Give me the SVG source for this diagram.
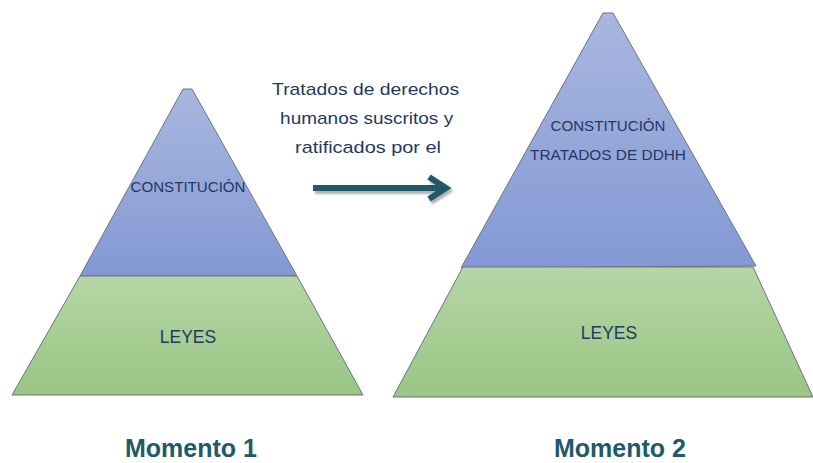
<svg xmlns="http://www.w3.org/2000/svg" width="813" height="463" viewBox="0 0 813 463">
<defs>
<linearGradient id="gBlue1" x1="0" y1="89" x2="0" y2="276" gradientUnits="userSpaceOnUse">
<stop offset="0" stop-color="#A9B7DF"/><stop offset="1" stop-color="#8398D4"/>
</linearGradient>
<linearGradient id="gGreen1" x1="0" y1="276" x2="0" y2="395" gradientUnits="userSpaceOnUse">
<stop offset="0" stop-color="#B5D6A5"/><stop offset="1" stop-color="#9AC584"/>
</linearGradient>
<linearGradient id="gBlue2" x1="0" y1="13" x2="0" y2="267" gradientUnits="userSpaceOnUse">
<stop offset="0" stop-color="#A9B7DF"/><stop offset="1" stop-color="#8398D4"/>
</linearGradient>
<linearGradient id="gGreen2" x1="0" y1="267" x2="0" y2="397" gradientUnits="userSpaceOnUse">
<stop offset="0" stop-color="#B5D6A5"/><stop offset="1" stop-color="#9AC584"/>
</linearGradient>
<filter id="shadow" x="-10%" y="-50%" width="130%" height="250%">
<feGaussianBlur stdDeviation="1"/>
</filter>
</defs>
<style>
.shape{stroke:#6B7580;stroke-width:1}
.lbl{font-family:"Liberation Sans",Arial,sans-serif;fill:#1F3864;text-anchor:middle}
.mom{font-family:"Liberation Sans",Arial,sans-serif;font-weight:bold;font-size:25px;fill:#215968;text-anchor:middle}
</style>
<g id="momento1">
<g id="p1-top">
<polygon class="shape" fill="url(#gBlue1)" points="183,89 192,89 297,276 80,276"/>
<text class="lbl" x="188" y="192" font-size="15" textLength="115" lengthAdjust="spacingAndGlyphs">CONSTITUCIÓN</text>
</g>
<g id="p1-bottom">
<polygon class="shape" fill="url(#gGreen1)" points="80,276 297,276 363,395 12,395"/>
<text class="lbl" x="188" y="343" font-size="17.5">LEYES</text>
</g>
<text class="mom" x="191" y="457">Momento 1</text>
</g>
<g id="momento2">
<g id="p2-top">
<polygon class="shape" fill="url(#gBlue2)" points="603,13 613,13 756,266 461,268"/>
<text class="lbl" x="608" y="131" font-size="15" textLength="115" lengthAdjust="spacingAndGlyphs">CONSTITUCIÓN</text>
<text class="lbl" x="608" y="160" font-size="15" textLength="156" lengthAdjust="spacingAndGlyphs">TRATADOS DE DDHH</text>
</g>
<g id="p2-bottom">
<polygon class="shape" fill="url(#gGreen2)" points="463,267 753,267 813,397 393,397"/>
<text class="lbl" x="609" y="339" font-size="17.5">LEYES</text>
</g>
<text class="mom" x="620" y="457">Momento 2</text>
</g>
<g id="arrow-label">
<text class="lbl" font-size="17">
<tspan x="368" y="95" textLength="187" lengthAdjust="spacingAndGlyphs">Tratados de derechos</tspan>
<tspan x="369" y="124" textLength="173" lengthAdjust="spacingAndGlyphs">humanos suscritos y</tspan>
<tspan x="368" y="153" textLength="146" lengthAdjust="spacingAndGlyphs">ratificados por el</tspan>
</text>
</g>
<g id="connectors">
<g transform="translate(2,3)" filter="url(#shadow)" opacity="0.6">
<path d="M313,188 H445 M429,177 L446,188 L429,199" fill="none" stroke="#7F7F7F" stroke-width="6"/>
</g>
<path d="M313,188 H445 M429,177 L446,188 L429,199" fill="none" stroke="#215968" stroke-width="6"/>
</g>
</svg>
